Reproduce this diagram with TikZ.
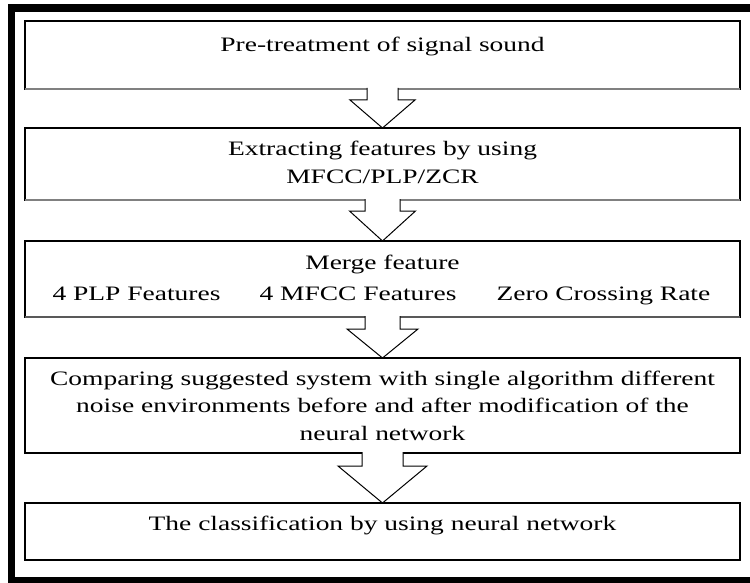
\documentclass[tikz,border=0pt]{standalone}
\usepackage{fontspec}
\setmainfont{Liberation Serif}[FakeStretch=1.34]
\usepackage{tikz}
\usetikzlibrary{calc}
\tikzstyle{stage} = [rectangle, draw=black, line width=1.1pt, inner sep=0pt, outer sep=0pt, minimum width=715pt, anchor=north west]
\tikzstyle{boxtext} = [inner sep=0pt, anchor=base, align=center, font=\fontsize{20.5}{27.5}\selectfont]
\tikzstyle{arrowbody} = [draw=black, fill=white, line width=1pt, line join=miter]
\newcommand{\blockarrow}[5]{%
  \draw[arrowbody] ($(#1.south)+(-#3,-1)$) -- ($(#1.south)+(-#3,#5)$) -- ($(#1.south)+(-#4,#5)$)
    -- (#2.north) -- ($(#1.south)+(#4,#5)$) -- ($(#1.south)+(#3,#5)$) -- ($(#1.south)+(#3,-1)$);}

\begin{document}
\begin{tikzpicture}[x=1pt, y=-1pt]

        \clip (0,0) rectangle (750,583);
        \useasboundingbox (0,0) rectangle (750,583);

        %% frame
        \draw[line width=7.5pt] (11.5,8) rectangle (800,581);

        %% boxes
        \node (B1) [stage, minimum height=68pt] at (25,21) {};
        \node (B2) [stage, minimum height=72pt] at (25,128) {};
        \node (B3) [stage, minimum height=76pt] at (25,241) {};
        \node (B4) [stage, minimum height=95pt] at (25,358) {};
        \node (B5) [stage, minimum height=57pt] at (25,503) {};

        \draw[gray, line width=2pt] (B1.south west) -- (B1.south east);
        \draw[gray, line width=2pt] (B2.south west) -- (B2.south east);
        \draw[gray!70!black, line width=2pt] (B3.south west) -- (B3.south east);

        %% texts
        \node (T1) [boxtext] at (382.5,52) {Pre-treatment of signal sound};
        \node (T2) [boxtext] at (382.5,183) {Extracting features by using\\ MFCC/PLP/ZCR};
        \node (T3) [boxtext] at (382.5,269) {Merge feature};
        \node (F1) [boxtext] at (136.5,300) {4 PLP Features};
        \node (F2) [boxtext] at (358,300) {4 MFCC Features};
        \node (F3) [boxtext] at (603.5,300) {Zero Crossing Rate};
        \node (T4) [boxtext] at (382.5,440) {Comparing suggested system with single algorithm different\\ noise environments before and after modification of the\\ neural network};
        \node (T5) [boxtext] at (382.5,530) {The classification by using neural network};

        %% arrows
        \blockarrow{B1}{B2}{15.5}{32.5}{11}
        \blockarrow{B2}{B3}{17.5}{33}{11}
        \blockarrow{B3}{B4}{17.5}{35.5}{12}
        \blockarrow{B4}{B5}{20.5}{44.5}{13}

    \end{tikzpicture}
\end{document}
